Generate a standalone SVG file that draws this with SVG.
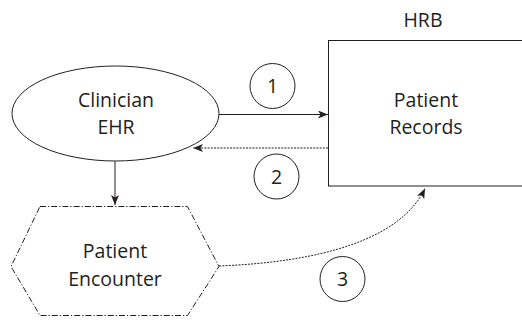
<svg xmlns="http://www.w3.org/2000/svg" width="522" height="326" viewBox="0 0 522 326">
<style>
.s{fill:none;stroke:#231f20;stroke-width:1}
.t{font-family:"Open Sans","Noto Sans",sans-serif;font-size:19.5px;fill:#231f20;text-anchor:middle}
.dot{stroke-dasharray:2,1.2}
</style>
<defs>
<marker id="ah" viewBox="0 0 10 8" refX="10" refY="4" markerWidth="10" markerHeight="8" markerUnits="userSpaceOnUse" orient="auto">
<path d="M0,0 L10,4 L0,8 L2.5,4 Z" fill="#231f20"/>
</marker>
</defs>
<g id="connectors">
<line class="s" x1="219" y1="114.5" x2="328" y2="114.5" marker-end="url(#ah)"/>
<line class="s dot" x1="328" y1="148" x2="193" y2="148" marker-end="url(#ah)"/>
<line class="s" x1="115" y1="161" x2="115" y2="205" marker-end="url(#ah)"/>
<path class="s dot" d="M219,266 C320,262 400,240 425,188.5" marker-end="url(#ah)"/>
</g>
<g id="clinician">
<ellipse class="s" cx="115.5" cy="113.5" rx="103.5" ry="47.5"/>
<text class="t" x="116" y="107">Clinician</text>
<text class="t" x="116" y="134">EHR</text>
</g>
<g id="records">
<rect class="s" x="328.5" y="40.5" width="200" height="145.5"/>
<text class="t" x="423" y="27">HRB</text>
<text class="t" x="426" y="107">Patient</text>
<text class="t" x="426" y="134">Records</text>
</g>
<g id="encounter">
<polygon class="s" points="40,206.5 187.5,206.5 219,266.5 187.5,315.5 40,315.5 11,266.5" stroke-dasharray="6,2,1.2,2"/>
<text class="t" x="115" y="258">Patient</text>
<text class="t" x="115" y="286">Encounter</text>
</g>
<g id="label1"><circle class="s" cx="272.5" cy="86" r="22.5"/><text class="t" x="272.5" y="93">1</text></g>
<g id="label2"><circle class="s" cx="276.5" cy="176.5" r="22.5"/><text class="t" x="276.5" y="183.5">2</text></g>
<g id="label3"><circle class="s" cx="342.5" cy="279" r="22.5"/><text class="t" x="342.5" y="286">3</text></g>
</svg>
